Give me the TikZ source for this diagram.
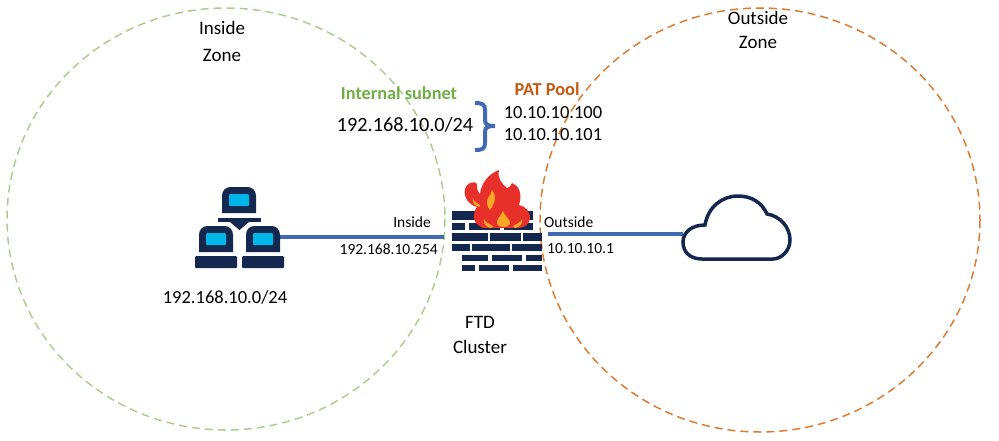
\documentclass[tikz,border=0pt]{standalone}
\usepackage{fontspec}
\setmainfont{Carlito}

\definecolor{navy}{HTML}{14284F}
\definecolor{screen}{HTML}{00B5E8}
\definecolor{linkblue}{HTML}{4169B4}
\definecolor{zonegreen}{HTML}{A9D18E}
\definecolor{zoneorange}{HTML}{E07B32}
\definecolor{subnetgreen}{HTML}{70AD47}
\definecolor{poolorange}{HTML}{C55A11}
\definecolor{flamered}{HTML}{E8302A}
\definecolor{flameorange}{HTML}{F9A825}

\tikzset{
    zone/.style={line width=1.5pt, dash pattern=on 8pt off 5pt},
    link/.style={line width=3.5pt, linkblue},
    lbl/.style={inner sep=0pt, font=\fontsize{15.5}{15.5}\selectfont},
    midlbl/.style={inner sep=0pt, font=\fontsize{18.5}{18.5}\selectfont},
    zonelbl/.style={inner sep=0pt, font=\fontsize{19}{19}\selectfont},
    biglbl/.style={inner sep=0pt, font=\fontsize{20.3}{20.3}\selectfont},
    head/.style={inner sep=0pt, font=\fontsize{18.3}{18.3}\selectfont\bfseries},
}

% One laptop: #1 = left edge of the screen, #2 = top of the screen
\newcommand{\laptop}[2]{
    \fill[navy] (#1,#2+26) -- (#1,#2+9) .. controls (#1,#2+3) and (#1+4,#2) .. (#1+9,#2)
        -- (#1+25,#2) .. controls (#1+30,#2) and (#1+34,#2+3) .. (#1+34,#2+9) -- (#1+34,#2+26) -- cycle;
    \fill[screen, rounded corners=1pt] (#1+7,#2+7) rectangle (#1+27,#2+19);
}

\begin{document}
\begin{tikzpicture}[x=1pt, y=-1pt]

    \useasboundingbox (0,0) rectangle (999,440);

    % The two zones
    \draw[zone, zonegreen] (226,219) ellipse (219 and 211);
    \draw[zone, zoneorange] (760,220) ellipse (220 and 212);

    % Ends of the two links
    \coordinate (hosts) at (280,237);
    \coordinate (fwin) at (444,237);
    \coordinate (fwout) at (548,234);
    \coordinate (cloud) at (683,234);

    \draw[link] (hosts) -- (fwin);
    \draw[link] (fwout) -- (cloud);

    % Hosts
    \laptop{222}{187}
    \laptop{199}{226}
    \laptop{246}{226}
    \fill[navy] (218,218) rectangle (261,222);
    \fill[navy] (230,222) -- (249,222) -- (239.5,230) -- cycle;
    \fill[navy, rounded corners=1pt] (195,256) rectangle (237,268);
    \fill[navy, rounded corners=1pt] (242,256) rectangle (284,268);

    % Firewall, row by row
    \fill[navy] (452,211) rectangle (533,220);
    \foreach \a/\b in {452/465, 469/500, 504/533}
        \fill[navy] (\a,223) rectangle (\b,230);
    \foreach \a/\b in {452/488, 490/521, 523/542}
        \fill[navy] (\a,233) rectangle (\b,241);
    \foreach \a/\b in {452/470, 472/510, 512/542}
        \fill[navy] (\a,243.5) rectangle (\b,251);
    \foreach \a/\b in {462/488, 492/522, 526/542}
        \fill[navy] (\a,255) rectangle (\b,261);
    \foreach \a/\b in {462/475, 479/509, 513/542}
        \fill[navy] (\a,265) rectangle (\b,271);

    % Flames
    \fill[flamered] (483,228) .. controls (477,226) and (472,219) .. (474,215)
        .. controls (474,212) and (475,209) .. (477,207)
        .. controls (469,205) and (463,197) .. (465,189)
        .. controls (466,183) and (475,180) .. (477,184)
        .. controls (476,187) and (478,192) .. (480,194)
        .. controls (481,184) and (488,174) .. (499,170)
        .. controls (497,178) and (502,184) .. (507,188)
        .. controls (509,188) and (511,186) .. (512,183)
        .. controls (518,185) and (523,193) .. (519,205)
        .. controls (526,206) and (531,213) .. (530,219)
        .. controls (529,224) and (525,228) .. (518,228) -- cycle;
    \fill[flameorange] (503,211) .. controls (504,216) and (511,219) .. (510,224)
        .. controls (509,228) and (498,228) .. (497,224)
        .. controls (496,219) and (501,216) .. (503,211) -- cycle;
    \fill[flameorange] (492,190) .. controls (497,195) and (495,204) .. (490,210)
        .. controls (487,207) and (486,202) .. (488,198)
        .. controls (490,196) and (491,193) .. (492,190) -- cycle;
    \fill[flameorange] (473,198) .. controls (474,202) and (477,203) .. (480,205)
        -- (479,207) .. controls (475,206) and (472,203) .. (473,198) -- cycle;
    \fill[flameorange] (484,219) .. controls (485,222) and (489,224) .. (493,226)
        -- (491,228) .. controls (486,227) and (483,224) .. (484,219) -- cycle;
    \fill[flameorange] (522,219) .. controls (521,222) and (517,224) .. (513,226)
        -- (515,228) .. controls (520,227) and (523,224) .. (522,219) -- cycle;

    % Cloud
    \draw[navy, line width=3.5pt] (702,259)
        .. controls (690,259) and (683,252) .. (683,242)
        .. controls (683,232) and (692,225) .. (705,225)
        .. controls (708,207) and (722,196) .. (738,196)
        .. controls (752,196) and (762,203) .. (767,214)
        .. controls (780,216) and (790,227) .. (790,240)
        .. controls (790,251) and (781,259) .. (773,259) -- cycle;

    % Brace
    \draw[linkblue, line width=4pt] (475,103) .. controls (482,103) and (485,104) .. (485,110)
        -- (485,120) .. controls (485,125) and (488,126) .. (495,126)
        .. controls (488,126) and (485,127) .. (485,132)
        -- (485,143) .. controls (485,149) and (482,150) .. (475,150);

    % Labels
    \node[zonelbl] (insidezone1) at (222,28) {Inside};
    \node[zonelbl] (insidezone2) at (222,55) {Zone};
    \node[zonelbl] (outsidezone1) at (758,18) {Outside};
    \node[zonelbl] (outsidezone2) at (758,42) {Zone};
    \node[head, subnetgreen] (subnethead) at (399,93) {Internal subnet};
    \node[biglbl] (subnet) at (405,125) {192.168.10.0/24};
    \node[head, poolorange] (poolhead) at (547,89) {PAT Pool};
    \node[midlbl] (pool1) at (553,113) {10.10.10.100};
    \node[midlbl] (pool2) at (553,135) {10.10.10.101};
    \node[lbl, anchor=east] (inlabel) at (431,222) {Inside};
    \node[lbl, anchor=east] (inaddr) at (438,249) {192.168.10.254};
    \node[lbl, anchor=west] (outlabel) at (544,222) {Outside};
    \node[lbl, anchor=west] (outaddr) at (547,249) {10.10.10.1};
    \node[midlbl] (hostnet) at (225,297) {192.168.10.0/24};
    \node[zonelbl] (ftd) at (480,322) {FTD};
    \node[zonelbl] (cluster) at (480,347) {Cluster};

\end{tikzpicture}
\end{document}
